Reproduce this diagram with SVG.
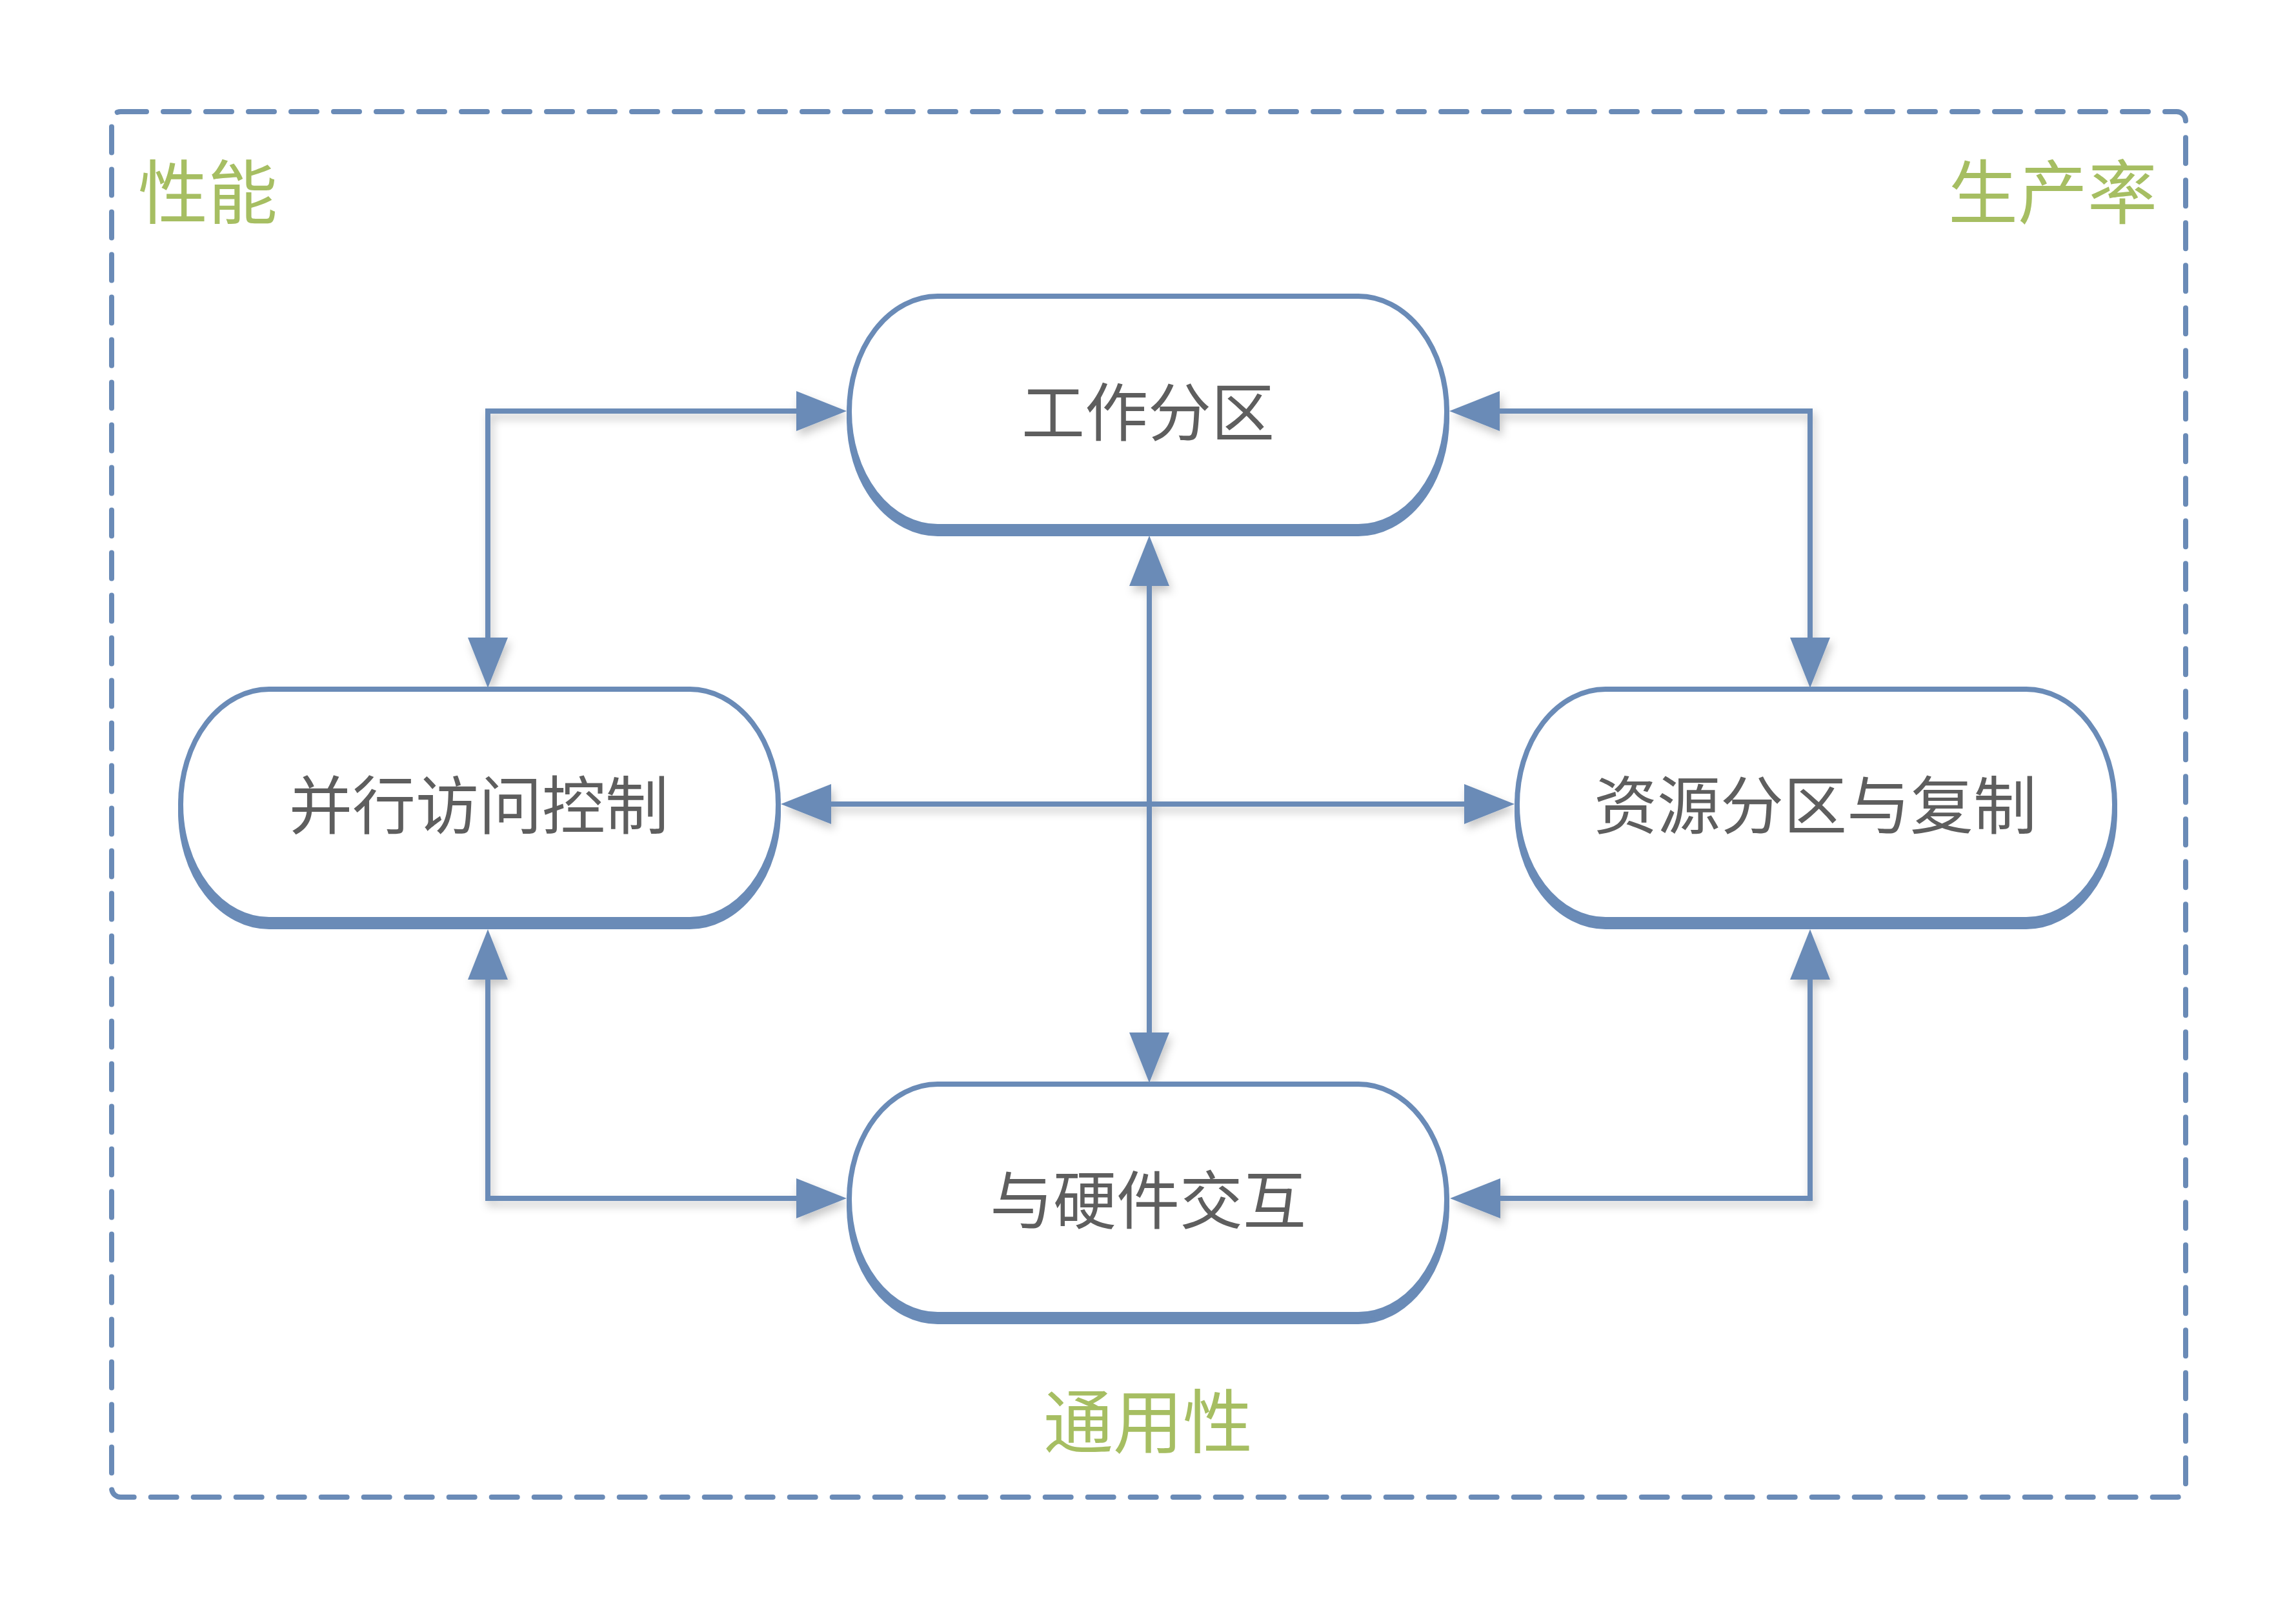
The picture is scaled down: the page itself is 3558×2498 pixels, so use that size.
<svg xmlns="http://www.w3.org/2000/svg" width="3558" height="2498" viewBox="0 0 3558 2498">
  <style>
    .frame { fill: none; stroke: #6a8bb7; stroke-width: 8; stroke-dasharray: 40 26; stroke-linecap: round; }
    .node-shadow { fill: #6a8bb7; stroke: #6a8bb7; stroke-width: 8; }
    .node-body { fill: #ffffff; stroke: #6a8bb7; stroke-width: 8; }
    .node-label { font-family: "Noto Sans CJK SC", "Noto Sans", sans-serif; font-size: 98px; fill: #5e5e5e; text-anchor: middle; }
    .zone-label { font-family: "Noto Sans CJK SC", "Noto Sans", sans-serif; font-size: 108px; fill: #a6be62; }
    .conn { fill: none; stroke: #6a8bb7; stroke-width: 8; stroke-linejoin: miter; marker-start: url(#arrow); marker-end: url(#arrow); }
  </style>
  <defs>
    <marker id="arrow" markerUnits="userSpaceOnUse" markerWidth="80" markerHeight="64" refX="2" refY="31" orient="auto-start-reverse" overflow="visible">
      <path d="M0,0 L78,31 L0,62 Z" fill="#6a8bb7"/>
    </marker>
    <filter id="shadow" x="-10%" y="-10%" width="120%" height="120%">
      <feDropShadow dx="4" dy="8" stdDeviation="7" flood-color="#000000" flood-opacity="0.22"/>
    </filter>
  </defs>

  <rect width="3558" height="2498" fill="#ffffff"/>

  <rect class="frame" x="173" y="173" width="3214" height="2147" rx="14" ry="14"/>

  <g id="zone-labels">
    <text class="zone-label" x="214" y="338">性能</text>
    <text class="zone-label" x="3343" y="338" text-anchor="end">生产率</text>
    <text class="zone-label" x="1779" y="2243" text-anchor="middle">通用性</text>
  </g>

  <g id="connectors" filter="url(#shadow)">
    <path class="conn" d="M756,990 V637 H1236"/>
    <path class="conn" d="M2322,637 H2805 V990"/>
    <path class="conn" d="M1286,1246 H2271"/>
    <path class="conn" d="M1781,906 V1602"/>
    <path class="conn" d="M756,1516 V1857 H1236"/>
    <path class="conn" d="M2805,1516 V1857 H2323"/>
  </g>

  <g id="node-top">
    <rect class="node-shadow" x="1316" y="470" width="926" height="357" rx="137" ry="178"/>
    <rect class="node-body" x="1316" y="459" width="926" height="357" rx="137" ry="178"/>
    <text class="node-label" x="1779" y="675">工作分区</text>
  </g>

  <g id="node-left">
    <rect class="node-shadow" x="280" y="1079" width="926" height="357" rx="137" ry="178"/>
    <rect class="node-body" x="280" y="1068" width="926" height="357" rx="137" ry="178"/>
    <text class="node-label" x="742" y="1284">并行访问控制</text>
  </g>

  <g id="node-right">
    <rect class="node-shadow" x="2351" y="1079" width="926" height="357" rx="137" ry="178"/>
    <rect class="node-body" x="2351" y="1068" width="926" height="357" rx="137" ry="178"/>
    <text class="node-label" x="2813" y="1284">资源分区与复制</text>
  </g>

  <g id="node-bottom">
    <rect class="node-shadow" x="1316" y="1691" width="926" height="357" rx="137" ry="178"/>
    <rect class="node-body" x="1316" y="1680" width="926" height="357" rx="137" ry="178"/>
    <text class="node-label" x="1779" y="1896">与硬件交互</text>
  </g>
</svg>
